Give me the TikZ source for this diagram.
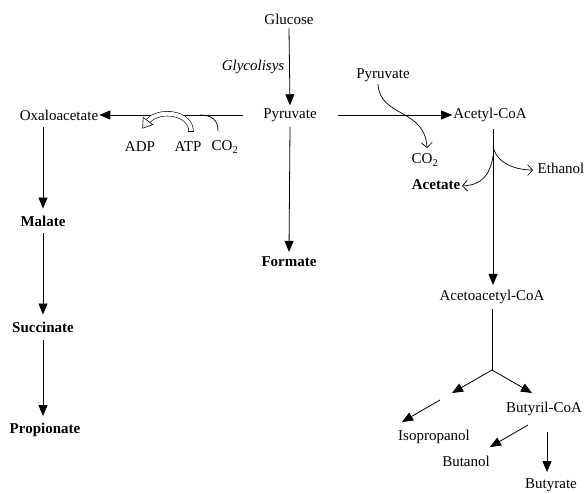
\documentclass[tikz,border=0pt]{standalone}
\usepackage{fontspec}
\setmainfont{Liberation Serif}
\usetikzlibrary{arrows.meta,calc}
\begin{document}
\begin{tikzpicture}[x=1pt,y=-1pt,
  lbl/.style={font=\fontsize{15}{18}\selectfont, inner sep=1pt},
  blbl/.style={font=\fontsize{15}{18}\selectfont\bfseries, inner sep=1pt},
  main/.style={line width=0.8pt, -{Triangle[length=11pt,width=9pt]}},
  thin/.style={line width=0.7pt},
  opena/.style={line width=0.7pt, -{Straight Barb[length=5pt,width=11pt]}}]
\useasboundingbox (0,0) rectangle (585,493);
% labels
\node[lbl] (glu) at (289,19) {Glucose};
\node[lbl] (gly) at (253,67) {\itshape Glycolisys};
\node[lbl] (pyr) at (290,115) {Pyruvate};
\node[lbl] (oxa) at (59,115) {Oxaloacetate};
\node[lbl] (adp) at (140,147) {ADP};
\node[lbl] (atp) at (188,147) {ATP};
\node[lbl] (co2a) at (225,147) {CO\textsubscript{2}};
\node[lbl] (pyr2) at (383,75) {Pyruvate};
\node[lbl] (acoa) at (490,115) {Acetyl-CoA};
\node[lbl] (co2b) at (425,160) {CO\textsubscript{2}};
\node[lbl] (eth) at (561,168) {Ethanol};
\node[blbl] (ace) at (436,185) {Acetate};
\node[blbl] (for) at (289,262) {Formate};
\node[blbl] (mal) at (43,221) {Malate};
\node[blbl] (suc) at (43,327) {Succinate};
\node[blbl] (pro) at (45,430) {Propionate};
\node[lbl] (aac) at (492,297) {Acetoacetyl-CoA};
\node[lbl] (iso) at (434,437) {Isopropanol};
\node[lbl] (bcoa) at (544,409) {Butyril-CoA};
\node[lbl] (but) at (466,461) {Butanol};
\node[lbl] (bty) at (551,485) {Butyrate};
% coordinates
\coordinate (pl) at (243,115);
\coordinate (pr) at (338,115);
\coordinate (br1) at (493,146);
\coordinate (br2) at (493,156);
\coordinate (fork) at (492,370);
\coordinate (fl) at (452,393);
\coordinate (fr) at (532,393);
\coordinate (isos) at (440,400);
% main arrows
\draw[main] ($(glu.south)+(0,3)$) -- ($(pyr.north)+(0,-2)$);
\draw[main] (pl) -- (oxa.east);
\draw[main] (pr) -- (acoa.west);
\draw[main] ($(pyr.south)+(0,4)$) -- ($(for.north)+(0,-4)$);
\draw[main] ($(oxa.south)+(-16,6)$) -- ($(mal.north)+(0,-6)$);
\draw[main] ($(mal.south)+(0,6)$) -- ($(suc.north)+(0,-6)$);
\draw[main] ($(suc.south)+(0,6)$) -- ($(pro.north)+(-2,-6)$);
\draw[main] ($(acoa.south)+(3,6)$) -- ($(aac.north)+(1,-4)$);
\draw[thin] ($(aac.south)+(0,4)$) -- (fork);
\draw[main] (fork) -- (fl);
\draw[main] (fork) -- (fr);
\draw[main] (isos) -- (402,422);
\draw[main] (528,425) -- (490,447);
\draw[main] (547,432) -- (547,472);
% side branches
\draw[opena] (br1) .. controls (496,163) and (515,170) .. (533,170);
\draw[opena] (br2) .. controls (490,175) and (482,185) .. (462,186);
\draw[opena] (378,84) .. controls (380,118) and (425,108) .. (427,148);
\draw[thin] (218,131) .. controls (218,120) and (212,115) .. (200,115);
% hollow ATP->ADP arrow
\draw[line width=0.6pt, double, double distance=4pt] (191,131) .. controls (191,113) and (160,108) .. (148,121);
\draw[line width=0.6pt] (188.4,131) -- (193.6,131);
\draw[line width=0.6pt, fill=white] (152.8,124.6) -- (142.6,128.2) -- (143.2,117.4) -- cycle;
\end{tikzpicture}
\end{document}
